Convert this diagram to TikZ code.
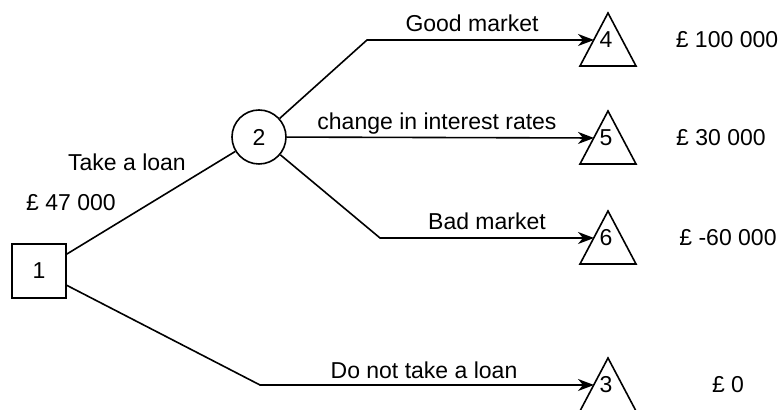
\documentclass[tikz,border=0pt]{standalone}
\usepackage{fontspec}
\setmainfont{Liberation Sans}
\usetikzlibrary{arrows.meta}

\tikzset{
  decision/.style={draw, line width=0.8pt, minimum size=27pt, inner sep=0pt},
  chance/.style={draw, circle, line width=0.8pt, minimum size=27pt, inner sep=0pt},
  branch/.style={line width=0.8pt},
  toleaf/.style={branch, -{Stealth[length=8pt,width=6pt,inset=2.5pt]}},
}

\begin{document}
\begin{tikzpicture}[x=0.5pt,y=-0.5pt,font=\fontsize{11.5}{14}\selectfont]
    \useasboundingbox (0,0) rectangle (784,410);

    \node[decision] (n1) at (39,271) {1};
    \node[chance] (n2) at (259,137) {2};

    % end nodes
    \foreach \n/\y in {4/13,5/111,6/211,3/358} {
        \draw[branch] (608,\y) -- ++(28,53) -- ++(-56,0) -- cycle;
        \node (t\n) at (606,\y+27) {\n};
        \coordinate (e\n) at (594,\y+27);
    }

    \coordinate (k4) at (367,40);
    \coordinate (k6) at (380,238);
    \coordinate (k3) at (260,385);

    \draw[branch] (n1) -- (n2);
    \draw[toleaf] (n1) -- (k3) -- (e3);
    \draw[toleaf] (n2) -- (k4) -- (e4);
    \draw[toleaf] (n2) -- (e5);
    \draw[toleaf] (n2) -- (k6) -- (e6);

    \node[anchor=base] (good) at (472,32) {Good market};
    \node[anchor=base] (rates) at (437,130) {change in interest rates};
    \node[anchor=base] (bad) at (487,230) {Bad market};
    \node[anchor=base] (noloan) at (424,379) {Do not take a loan};
    \node[anchor=base] (loan) at (127,171) {Take a loan};
    \node[anchor=base] (cost) at (71,211) {£ 47 000};

    \node[anchor=base] (v4) at (727,48) {£ 100 000};
    \node[anchor=base] (v5) at (721,146) {£ 30 000};
    \node[anchor=base] (v6) at (728,246) {£ -60 000};
    \node[anchor=base] (v3) at (728,393) {£ 0};
\end{tikzpicture}
\end{document}
